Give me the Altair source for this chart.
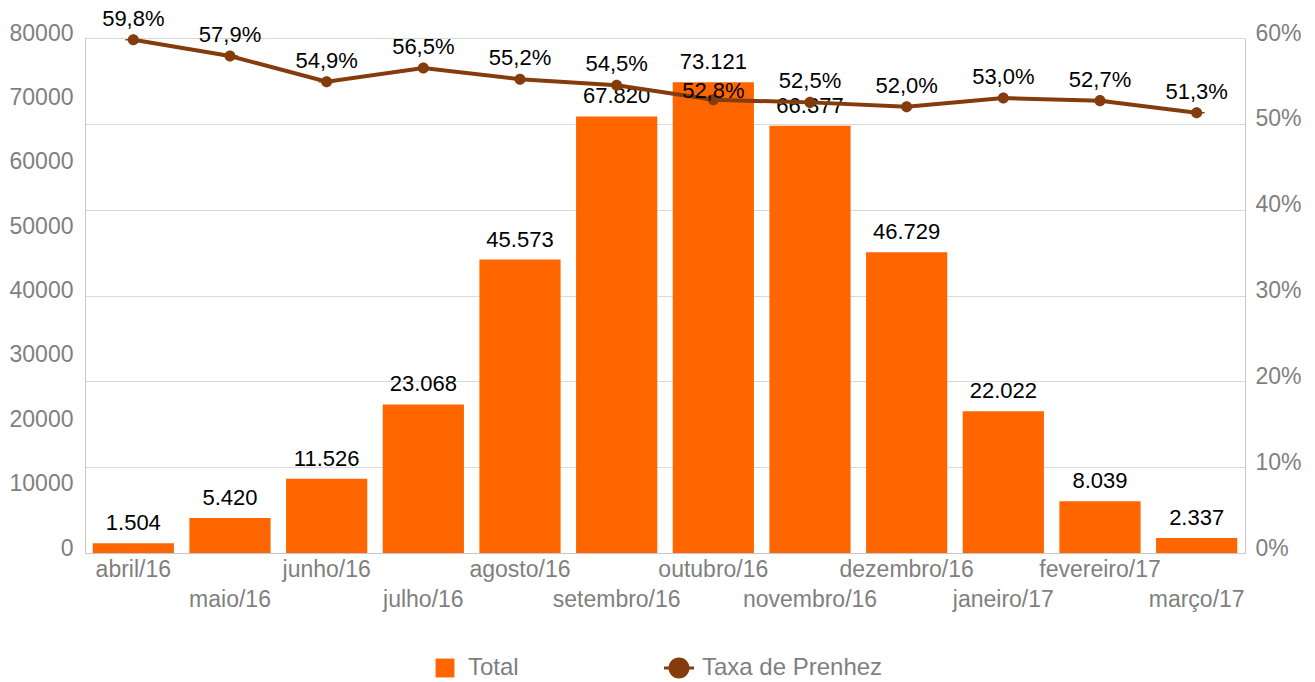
import altair as alt
import pandas as pd

months = ["abril/16", "maio/16", "junho/16", "julho/16", "agosto/16", "setembro/16",
          "outubro/16", "novembro/16", "dezembro/16", "janeiro/17", "fevereiro/17", "março/17"]
totals = [1504, 5420, 11526, 23068, 45573, 67820, 73121, 66377, 46729, 22022, 8039, 2337]
taxa = [59.8, 57.9, 54.9, 56.5, 55.2, 54.5, 52.8, 52.5, 52.0, 53.0, 52.7, 51.3]
series = ["Total", "Taxa de Prenhez"]
left_ticks = [0, 10000, 20000, 30000, 40000, 50000, 60000, 70000, 80000]
right_ticks = [0, 0.1, 0.2, 0.3, 0.4, 0.5, 0.6]

df = pd.DataFrame({
    "mes": months,
    "total": totals,
    "taxa": [t / 100 for t in taxa],
    "total_lbl": [f"{v:,}".replace(",", ".") for v in totals],
    "taxa_lbl": [f"{t:.1f}".replace(".", ",") + "%" for t in taxa],
})

FONT = "Liberation Sans"
GRAY = "#7F7F7F"
ORANGE = "#FF6600"
BROWN = "#843C0C"
AXISLINE = "#C8C8C8"

color_scale = alt.Scale(domain=series, range=[ORANGE, BROWN])
shape_scale = alt.Scale(
    domain=series,
    range=["M-0.63,-0.63H0.63V0.63H-0.63Z",
           "M-1,-0.1H1V0.1H-1Z M0.7,0A0.7,0.7,0,1,1,-0.7,0A0.7,0.7,0,1,1,0.7,0Z"],
)

n = len(months) - 1
x_enc = alt.X(
    "mes:N", sort=months,
    scale=alt.Scale(paddingInner=0.16, paddingOuter=0.08),
    axis=alt.Axis(title=None, labelAngle=0, ticks=False, labelFontSize=23, labelColor=GRAY,
                  labelLineHeight=30, labelPadding=5, domainColor=AXISLINE, labelFont=FONT,
                  labelExpr=f"round(datum.index * {n}) % 2 == 1 ? ['', datum.label] : datum.label"),
)

legend = alt.Legend(title=None, orient="none", legendX=345, legendY=615, direction="horizontal",
                    symbolSize=900, labelFontSize=24, labelColor=GRAY, labelFont=FONT,
                    columnPadding=145, labelOffset=8, symbolStrokeWidth=0, labelLimit=400)

base = alt.Chart(df)

y_left = alt.Y("total:Q", scale=alt.Scale(domain=[0, 80000], nice=False),
               axis=alt.Axis(orient="left", values=left_ticks, format="d", grid=False, ticks=False,
                             domainColor=AXISLINE, labelColor=GRAY, labelFontSize=23, labelFont=FONT,
                             labelPadding=12, labelOffset=-5, title=None))

bars = base.mark_bar(stroke=None).transform_calculate(serie="'Total'").encode(
    x=x_enc, y=y_left,
    color=alt.Color("serie:N", scale=color_scale, legend=legend),
)
bar_text = base.mark_text(baseline="alphabetic", dy=-13, fontSize=22, font=FONT, color="#000000").encode(
    x=x_enc, y=alt.Y("total:Q"), text="total_lbl:N",
)

y_right = alt.Y("taxa:Q", scale=alt.Scale(domain=[0, 0.6], nice=False),
                axis=alt.Axis(orient="right", values=right_ticks, format=".0%", grid=True,
                              gridColor="#D9D9D9", ticks=False, domainColor=AXISLINE, labelColor=GRAY,
                              labelFontSize=23, labelFont=FONT, labelPadding=10, labelOffset=-5,
                              title=None))

line = base.mark_line(color=BROWN, strokeWidth=4).encode(x=x_enc, y=y_right)
points = base.mark_point(filled=True, size=250, opacity=1).transform_calculate(
    serie="'Taxa de Prenhez'").encode(
    x=x_enc, y=alt.Y("taxa:Q"),
    color=alt.Color("serie:N", scale=color_scale, legend=legend),
    shape=alt.Shape("serie:N", scale=shape_scale, legend=legend),
)
pct_text = base.mark_text(baseline="alphabetic", dy=-14, fontSize=22, font=FONT, color="#000000").encode(
    x=x_enc, y=alt.Y("taxa:Q"), text="taxa_lbl:N",
).transform_filter(alt.datum.mes != "outubro/16")
pct_text2 = base.mark_text(baseline="alphabetic", dy=-2, fontSize=22, font=FONT, color="#000000").encode(
    x=x_enc, y=alt.Y("taxa:Q"), text="taxa_lbl:N",
).transform_filter(alt.datum.mes == "outubro/16")

left = alt.layer(bars, bar_text)
right = alt.layer(line, points, pct_text, pct_text2)

chart = alt.layer(left, right).resolve_scale(y="independent").properties(
    width=1160, height=515,
    autosize=alt.AutoSizeParams(type="none"),
    padding={"left": 77, "top": 30, "right": 62, "bottom": 129},
).configure_view(stroke=None).configure(font=FONT)

chart.save("out.html", embed_options={"renderer": "svg", "actions": False})
